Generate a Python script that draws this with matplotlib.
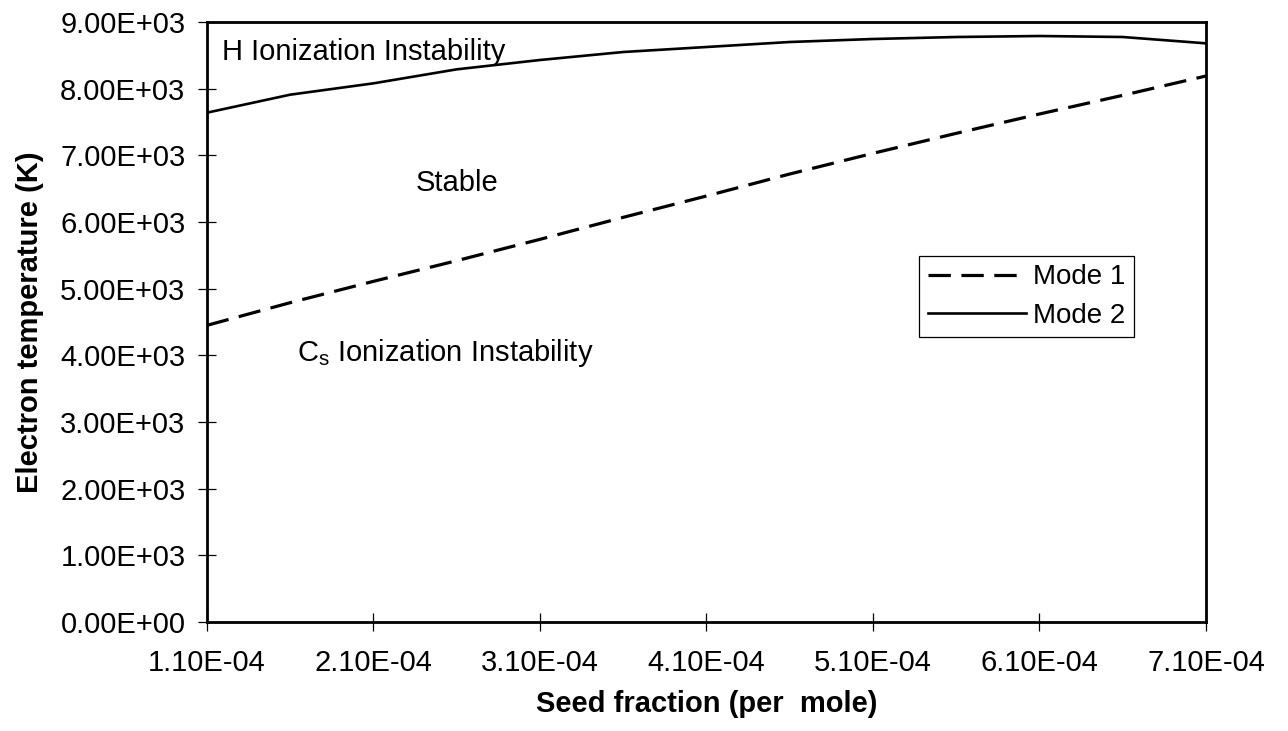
import matplotlib
matplotlib.use("Agg")
import matplotlib.pyplot as plt
from matplotlib.ticker import FixedLocator, FixedFormatter

plt.rcParams["font.family"] = ["Liberation Sans", "DejaVu Sans"]

# seed fraction (per mole)
seed = [1.1e-4, 1.6e-4, 2.1e-4, 2.6e-4, 3.1e-4, 3.6e-4, 4.1e-4,
        4.6e-4, 5.1e-4, 5.6e-4, 6.1e-4, 6.6e-4, 7.1e-4]

# electron temperature (K) at the stability boundaries
mode1 = [4450, 4790, 5110, 5420, 5740, 6070, 6390,
         6720, 7030, 7330, 7620, 7900, 8190]
mode2 = [7640, 7910, 8080, 8290, 8430, 8550, 8625,
         8700, 8745, 8775, 8790, 8775, 8680]

xticks = [1.1e-4, 2.1e-4, 3.1e-4, 4.1e-4, 5.1e-4, 6.1e-4, 7.1e-4]
yticks = [0, 1000, 2000, 3000, 4000, 5000, 6000, 7000, 8000, 9000]

FS = 21

fig = plt.figure(figsize=(12.88, 7.31), dpi=100)
ax = fig.add_axes([0.1607, 0.1491, 0.7756, 0.8208])

ax.plot(seed, mode1, color="black", lw=2.3, dashes=(7, 3.3), label="Mode 1")
ax.plot(seed, mode2, color="black", lw=1.9, label="Mode 2")

ax.set_xlim(1.1e-4, 7.1e-4)
ax.set_ylim(0, 9000)

ax.xaxis.set_major_locator(FixedLocator(xticks))
ax.xaxis.set_major_formatter(FixedFormatter([f"{v:.2E}" for v in xticks]))
ax.yaxis.set_major_locator(FixedLocator(yticks))
ax.yaxis.set_major_formatter(FixedFormatter([f"{v:.2E}" for v in yticks]))

ax.tick_params(direction="inout", length=13, width=0.9, labelsize=FS,
               colors="black")
ax.tick_params(axis="x", pad=13)
ax.tick_params(axis="y", pad=9)
for s in ax.spines.values():
    s.set_linewidth(2)

ax.set_xlabel("Seed fraction (per  mole)", fontsize=FS, fontweight="bold",
              labelpad=9)
ax.set_ylabel("Electron temperature (K)", fontsize=FS, fontweight="bold",
              labelpad=12)

# region labels
ax.text(1.19e-4, 8550, "H Ionization Instability", fontsize=FS, va="center")
ax.text(2.6e-4, 6580, "Stable", fontsize=FS, va="center", ha="center")
ax.text(1.64e-4, 4030, r"C$_\mathregular{s}$ Ionization Instability",
        fontsize=FS, va="center")

leg = ax.legend(loc="upper left", bbox_to_anchor=(0.713, 0.61),
                borderaxespad=0, fontsize=20, handlelength=3.55,
                handletextpad=0.25, borderpad=0.3, labelspacing=0.45,
                fancybox=False, edgecolor="black", framealpha=1)
leg.get_frame().set_linewidth(0.9)

fig.savefig("out.png", dpi=100)
